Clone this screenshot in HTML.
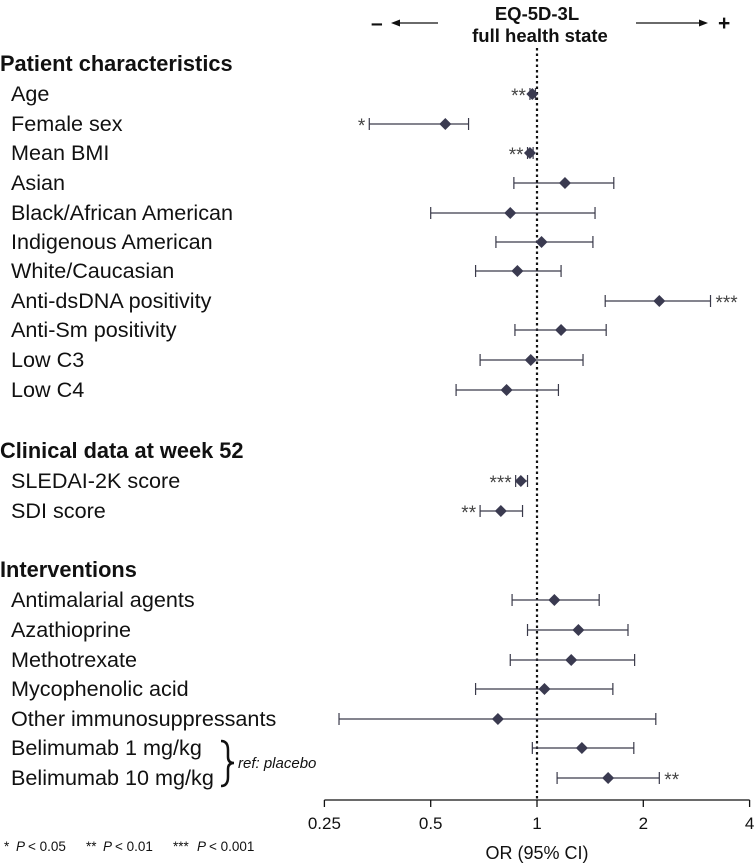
<!DOCTYPE html>
<html><head><meta charset="utf-8"><style>
html,body{margin:0;padding:0;background:#fff;}
svg{display:block;font-family:"Liberation Sans",Arial,sans-serif;}
</style></head><body>
<svg id="chart" width="754" height="867" viewBox="0 0 754 867">
<g id="hdr">
<text x="537" y="20" text-anchor="middle" font-size="18.5" font-weight="bold" fill="#111">EQ-5D-3L</text>
<text x="540" y="42" text-anchor="middle" font-size="18.5" font-weight="bold" fill="#111">full health state</text>
<text x="371" y="30" font-size="21" font-weight="bold" fill="#111">–</text>
<line x1="438" y1="23" x2="394" y2="23" stroke="#111" stroke-width="1.3"/>
<path d="M391 23 L400 19.5 L400 26.5 Z" fill="#111"/>
<line x1="636" y1="23" x2="705" y2="23" stroke="#111" stroke-width="1.3"/>
<path d="M708 23 L699 19.5 L699 26.5 Z" fill="#111"/>
<text x="718" y="30" font-size="21" font-weight="bold" fill="#111">+</text>
</g>
<g id="plot"></g>
</svg>
<script>
const labels=["Age","Female sex","Mean BMI","Asian","Black/African American","Indigenous American","White/Caucasian","Anti-dsDNA positivity","Anti-Sm positivity","Low C3","Low C4","SLEDAI-2K score","SDI score","Antimalarial agents","Azathioprine","Methotrexate","Mycophenolic acid","Other immunosuppressants","Belimumab 1 mg/kg","Belimumab 10 mg/kg"];
const rowY=[94,124,153,183,213,242,271,301,330,360,390,481,511,600,630,660,689,719,748,778];
const orValues=[0.97,0.55,0.955,1.2,0.84,1.03,0.88,2.22,1.17,0.96,0.82,0.90,0.79,1.12,1.31,1.25,1.05,0.775,1.34,1.59];
const ciLow=[0.955,0.335,0.94,0.86,0.5,0.765,0.67,1.56,0.866,0.69,0.59,0.87,0.69,0.85,0.94,0.84,0.67,0.275,0.97,1.14];
const ciHigh=[0.99,0.64,0.975,1.65,1.46,1.44,1.17,3.1,1.57,1.35,1.15,0.94,0.91,1.5,1.81,1.89,1.64,2.17,1.88,2.22];
const sigLabels=["**","*","**","","","","","***","","","","***","**","","","","","","","**"];
const sigSide=["L","L","L","","","","","R","","","","L","L","","","","","","","R"];
const sections=["Patient characteristics","Clinical data at week 52","Interventions"];
const sectionY=[64,451,570];
const ticks=[0.25,0.5,1,2,4];
const tickLabels=["0.25","0.5","1","2","4"];
const NS="http://www.w3.org/2000/svg";
const g=document.getElementById('plot');
const x=v=>537+106.3*Math.log2(v);
function mk(t,a,txt,p){const e=document.createElementNS(NS,t);for(const k in a)e.setAttribute(k,a[k]);if(txt!==undefined)e.textContent=txt;(p||g).appendChild(e);return e;}
sections.forEach((s,i)=>{const e=mk('text',{x:0,y:sectionY[i]+7,'font-size':21.8,'font-weight':'bold',fill:'#111'},s);

});
const ref=mk('line',{x1:x(1),y1:48,x2:x(1),y2:800,stroke:'#111','stroke-width':2.2,'stroke-dasharray':'2.5,3'});


labels.forEach((l,i)=>{const y=rowY[i];
const t=mk('text',{x:11,y:y+7,'font-size':21.6,fill:'#111'},l);


const ci=mk('line',{x1:x(ciLow[i]),y1:y,x2:x(ciHigh[i]),y2:y,stroke:'#3a3a4a','stroke-width':1.2});


[ciLow[i],ciHigh[i]].forEach(v=>{const c=mk('line',{x1:x(v),y1:y-6,x2:x(v),y2:y+6,stroke:'#3a3a4a','stroke-width':1.2});

});
const px=x(orValues[i]);
const d=mk('path',{d:`M${px} ${y-6} L${px+6} ${y} L${px} ${y+6} L${px-6} ${y} Z`,fill:'#3a3a50'});


if(sigLabels[i]){const L=sigSide[i]==='L';
const s=mk('text',{x:L?x(ciLow[i])-4:x(ciHigh[i])+5,y:y+8,'font-size':19,fill:'#444','text-anchor':L?'end':'start'},sigLabels[i]);

}
});
const br=mk('path',{d:'M221 741 Q228 741 228 750 L228 757 Q228 763 234 763 Q228 763 228 769 L228 777 Q228 786 221 786',fill:'none',stroke:'#111','stroke-width':2.5});


const rt=mk('text',{x:238,y:768,'font-size':15,'font-style':'italic',fill:'#111'},'ref: placebo');


const ax=mk('line',{x1:x(0.25),y1:800,x2:x(4),y2:800,stroke:'#111','stroke-width':1.3});


ticks.forEach((v,i)=>{const tk=mk('line',{x1:x(v),y1:800,x2:x(v),y2:807,stroke:'#111','stroke-width':1.3});


const tl=mk('text',{x:x(v),y:829,'font-size':17,fill:'#111','text-anchor':'middle'},tickLabels[i]);

});
const at=mk('text',{x:x(1),y:859,'font-size':18,fill:'#111','text-anchor':'middle'},'OR (95% CI)');


const fnParts=[[4,"*"],[16,"P"],[28,"< 0.05"],[86,"**"],[103,"P"],[115,"< 0.01"],[173,"***"],[197,"P"],[209,"< 0.001"]];
fnParts.forEach(([fx,s])=>{const f=mk('text',{x:fx,y:851,'font-size':13.5,fill:'#111','font-style':s==='P'?'italic':'normal'},s);

});
</script>
</body></html>
